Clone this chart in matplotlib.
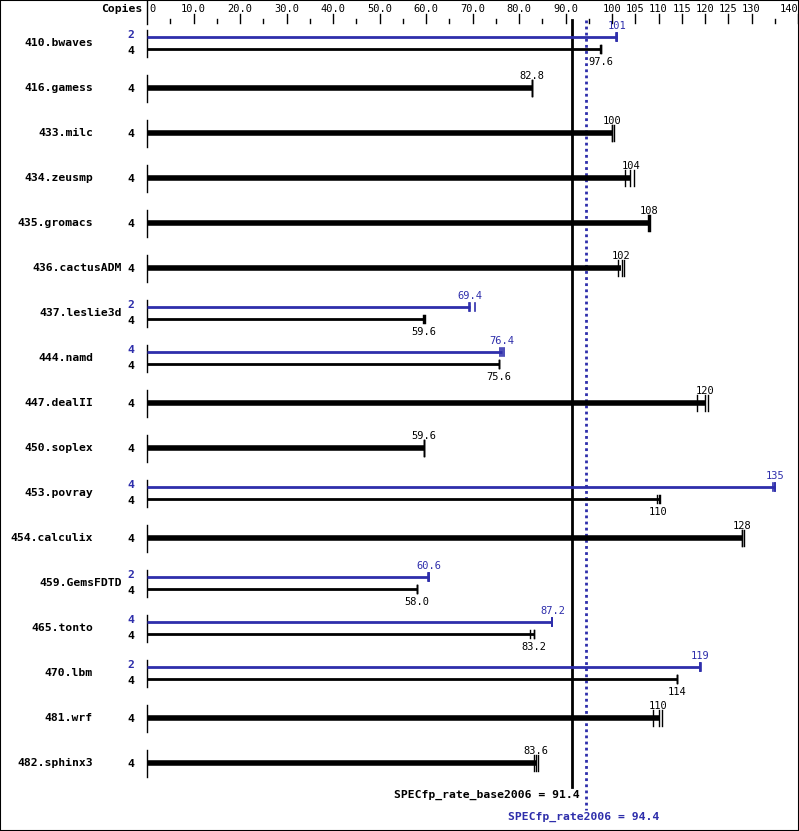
import matplotlib
matplotlib.use("Agg")
import matplotlib.pyplot as plt
from matplotlib.patches import Rectangle

# benchmark data
names = ["410.bwaves", "416.gamess", "433.milc", "434.zeusmp", "435.gromacs",
         "436.cactusADM", "437.leslie3d", "444.namd", "447.dealII", "450.soplex",
         "453.povray", "454.calculix", "459.GemsFDTD", "465.tonto", "470.lbm",
         "481.wrf", "482.sphinx3"]
base_copies = [4, 4, 4, 4, 4, 4, 4, 4, 4, 4, 4, 4, 4, 4, 4, 4, 4]
base_vals = [97.6, 82.8, 100, 104, 108, 102, 59.6, 75.6, 120, 59.6,
             110, 128, 58.0, 83.2, 114, 110, 83.6]
base_labels = ["97.6", "82.8", "100", "104", "108", "102", "59.6", "75.6", "120",
               "59.6", "110", "128", "58.0", "83.2", "114", "110", "83.6"]
base_runs = [[97.5, 97.6, 97.7], [82.8, 82.8, 82.8], [99.9, 100, 100.5],
             [102.9, 103.8, 104.7], [107.7, 108, 108.1], [101.2, 102.1, 102.5],
             [59.4, 59.6, 59.7], [75.6, 75.6, 75.6], [118.3, 119.9, 120.6],
             [59.6, 59.6, 59.6], [109.6, 110, 110.4], [127.9, 128, 128.3],
             [58.0, 58.0, 58.0], [82.4, 83.2, 83.3], [114, 114, 114],
             [108.8, 110, 110.7], [83.2, 83.6, 84.0]]
# peak results only where they differ from base (None = same as base)
peak_copies = [2, None, None, None, None, None, 2, 4, None, None, 4, None, 2, 4, 2, None, None]
peak_vals = [101, None, None, None, None, None, 69.4, 76.4, None, None, 135, None,
             60.6, 87.2, 119, None, None]
peak_labels = ["101", None, None, None, None, None, "69.4", "76.4", None, None, "135",
               None, "60.6", "87.2", "119", None, None]
peak_runs = [[100.8, 101, 101.1], None, None, None, None, None, [69.2, 69.4, 70.5],
             [75.9, 76.4, 76.8], None, None, [134.7, 135, 135.1], None,
             [60.5, 60.6, 60.7], [87.2, 87.2, 87.2], [118.9, 119, 119.2], None, None]

tick_vals = [0, 10, 20, 30, 40, 50, 60, 70, 80, 90, 100, 105, 110, 115, 120, 125, 130, 140]
tick_text = ["0", "10.0", "20.0", "30.0", "40.0", "50.0", "60.0", "70.0", "80.0",
             "90.0", "100", "105", "110", "115", "120", "125", "130", "140"]
minor_vals = [5, 15, 25, 35, 45, 55, 65, 75, 85, 95, 135]

base_mean = 91.4
peak_mean = 94.4

# long names sit further right in the original chart
wide_names = ["436.cactusADM", "437.leslie3d", "459.GemsFDTD"]

BLUE = "#2e2eab"
W, H = 799, 831
X0, X1 = 147, 798  # pixel span of 0..140
PPU = (X1 - X0) / 140.0


def px(x):
    # horizontal pixel position -> data units
    return (x - X0) / PPU


fig = plt.figure(figsize=(W / 100, H / 100), dpi=100)
ax = fig.add_axes([0, 0, 1, 1])
ax.set_xlim(px(0), px(W))
ax.set_ylim(H, 0)
ax.axis("off")
fig.patches.append(Rectangle((0, 0), 1, 1, transform=fig.transFigure,
                             fill=False, edgecolor="black", linewidth=1.5))

mono = "DejaVu Sans Mono"
lab = dict(family=mono, fontsize=8.2, fontweight="bold")
num = dict(family=mono, fontsize=7.5)

# top scale
ax.text(px(142), 9, "Copies", ha="right", va="center", **lab)
ax.plot([0, 0], [0, 24], color="black", lw=1)
for i, (v, t) in enumerate(zip(tick_vals, tick_text)):
    ha = "left" if i == 0 else ("right" if i == len(tick_vals) - 1 else "center")
    dx = 0.5 if i == 0 else 0
    ax.text(v + dx, 9, t, ha=ha, va="center", **num)
    if v > 0:
        ax.plot([v, v], [14, 23], color="black", lw=1)
for v in minor_vals:
    ax.plot([v, v], [19, 23], color="black", lw=1)

# summary lines
ax.plot([base_mean, base_mean], [20, 787], color="black", lw=2)
ax.plot([peak_mean, peak_mean], [20, 810], color=BLUE, lw=2, linestyle=(0, (1, 1.2)))
ax.text(px(580), 795, "SPECfp_rate_base2006 = %.1f" % base_mean, ha="right", va="center", **lab)
ax.text(peak_mean - 0.5, 817, "SPECfp_rate2006 = %.1f" % peak_mean, ha="center",
        va="center", color=BLUE, **lab)

for i, name in enumerate(names):
    yc = 43 + 45 * i
    name_x = px(122) if name in wide_names else px(93)
    ax.text(name_x, yc, name, ha="right", va="center", **lab)
    ax.plot([0, 0], [yc - 13, yc + 14], color="black", lw=1)
    if peak_vals[i] is None:
        ax.text(px(134), yc + 1, str(base_copies[i]), ha="right", va="center", **lab)
        ax.plot([0, base_vals[i]], [yc, yc], color="black", lw=4, solid_capstyle="butt")
        for r in base_runs[i]:
            ax.plot([r, r], [yc - 8, yc + 8], color="black", lw=1)
        ax.text(base_vals[i], yc - 12, base_labels[i], ha="center", va="center", **num)
    else:
        yp, yb = yc - 6, yc + 6
        ax.text(px(134), yp - 2, str(peak_copies[i]), ha="right", va="center",
                color=BLUE, **lab)
        ax.text(px(134), yb + 2, str(base_copies[i]), ha="right", va="center", **lab)
        ax.plot([0, peak_vals[i]], [yp, yp], color=BLUE, lw=2, solid_capstyle="butt")
        for r in peak_runs[i]:
            ax.plot([r, r], [yp - 4, yp + 4], color=BLUE, lw=1.2)
        ax.plot([0, base_vals[i]], [yb, yb], color="black", lw=2, solid_capstyle="butt")
        for r in base_runs[i]:
            ax.plot([r, r], [yb - 4, yb + 4], color="black", lw=1)
        ax.text(peak_vals[i], yp - 11, peak_labels[i], ha="center", va="center",
                color=BLUE, **num)
        ax.text(base_vals[i], yb + 13, base_labels[i], ha="center", va="center", **num)

fig.savefig("out.png", dpi=100)
